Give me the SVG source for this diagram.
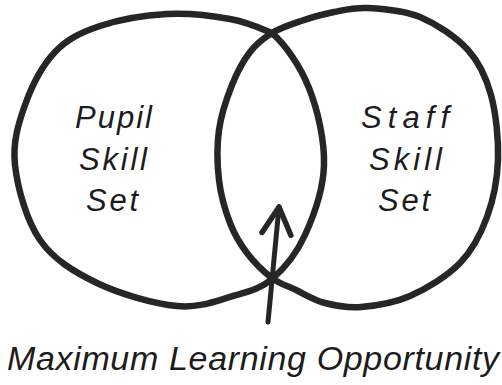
<svg xmlns="http://www.w3.org/2000/svg" width="502" height="385" viewBox="0 0 502 385">
  <style>
    .ring { fill: none; stroke: #262626; stroke-width: 6.5; stroke-linejoin: round; stroke-linecap: round; }
    .label { font-family: "Liberation Sans", Arial, sans-serif; font-style: italic; font-size: 31px; fill: #1c1c1c; }
    .caption { font-family: "Liberation Sans", Arial, sans-serif; font-style: italic; font-size: 34px; fill: #1c1c1c; }
    .arrow { fill: none; stroke: #262626; stroke-width: 5; stroke-linecap: round; stroke-linejoin: round; }
  </style>
  <defs>
    <marker id="chevron" markerUnits="userSpaceOnUse" markerWidth="40" markerHeight="40" refX="0" refY="0" orient="auto" overflow="visible">
      <path d="M -27,-14.5 L 0,0 L -27,14.5" fill="none" stroke="#262626" stroke-width="5.5" stroke-linecap="round" stroke-linejoin="round"/>
    </marker>
  </defs>

  <rect width="502" height="385" fill="#ffffff"/>

  <!-- left set -->
  <g id="pupil-skill-set">
    <path class="ring" d="M 272,33 C 285.2,44.5 300.3,66 309,88 C 317.7,110 324.7,140.5 324,165 C 323.3,189.5 313.7,216 305,235 C 296.3,254 284,268.8 272,279 C 260,289.2 248.8,291.5 233,296 C 217.2,300.5 199.7,308.2 177,306 C 154.3,303.8 119.8,294 97,283 C 74.2,272 53.7,259.7 40,240 C 26.3,220.3 17.5,187.5 15,165 C 12.5,142.5 18.3,123.8 25,105 C 31.7,86.2 42.5,65.2 55,52 C 67.5,38.8 81.3,32.3 100,26 C 118.7,19.7 145.3,15.2 167,14 C 188.7,12.8 212.5,15.8 230,19 C 247.5,22.2 258.8,27.5 272,33 Z"/>
    <text class="label" x="75" y="128" textLength="77" lengthAdjust="spacing">Pupil</text>
    <text class="label" x="79" y="170" textLength="68" lengthAdjust="spacing">Skill</text>
    <text class="label" x="86" y="211" textLength="52" lengthAdjust="spacing">Set</text>
  </g>

  <!-- right set -->
  <g id="staff-skill-set">
    <path class="ring" d="M 272,33 C 280.5,27.8 290.7,24.5 301,21 C 311.3,17.5 322.8,14.2 334,12 C 345.2,9.8 353.7,7.2 368,8 C 382.3,8.8 403.3,10 420,17 C 436.7,24 456.2,37 468,50 C 479.8,63 486,76.7 491,95 C 496,113.3 498.7,139.7 498,160 C 497.3,180.3 493.3,199.8 487,217 C 480.7,234.2 472.8,249.8 460,263 C 447.2,276.2 426.5,288.7 410,296 C 393.5,303.3 375.2,305.8 361,307 C 346.8,308.2 335.8,305.8 325,303 C 314.2,300.2 304.8,294.2 296,290 C 287.2,285.8 280.2,284.2 272,278 C 263.8,271.8 254,262.2 247,253 C 240,243.8 234.7,235.2 230,223 C 225.3,210.8 220.8,195.5 219,180 C 217.2,164.5 216.8,145.8 219,130 C 221.2,114.2 226.8,98 232,85 C 237.2,72 243.3,60.7 250,52 C 256.7,43.3 263.5,38.2 272,33 Z"/>
    <text class="label" x="361" y="128" textLength="88" lengthAdjust="spacing">Staff</text>
    <text class="label" x="369" y="170" textLength="73" lengthAdjust="spacing">Skill</text>
    <text class="label" x="378" y="211" textLength="52" lengthAdjust="spacing">Set</text>
  </g>

  <!-- pointer into the overlap -->
  <g id="connectors">
    <path class="arrow" d="M 268,322 L 279,207" marker-end="url(#chevron)"/>
  </g>

  <g id="overlap-label">
    <text class="caption" x="7" y="370" textLength="492" lengthAdjust="spacing">Maximum Learning Opportunity</text>
  </g>
</svg>
